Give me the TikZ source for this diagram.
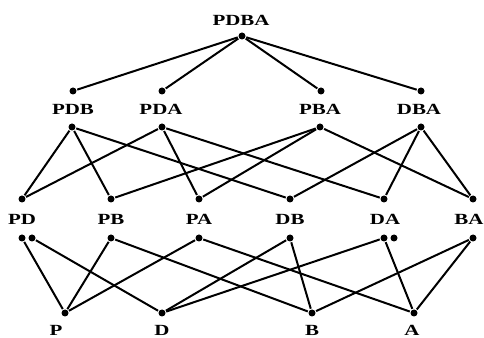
\documentclass[tikz,border=0pt]{standalone}
\usepackage{fontspec}
\setmainfont{Liberation Serif}
\tikzset{
  dot/.style={circle, fill, inner sep=0pt, minimum size=7pt},
  lbl/.style={font=\bfseries\fontsize{15.5}{15.5}\selectfont, inner sep=0pt, xscale=1.35, transform shape}
}
\begin{document}
\begin{tikzpicture}[x=1pt, y=1pt, line width=2pt]
    \useasboundingbox (0,0) rectangle (484,337);

    % Top
    \node[lbl] (lPDBA) at (241,317) {PDBA};
    \node[dot] (PDBA) at (242,301) {};

    % Three letters
    \node[dot] (PDBt) at (73,246) {};
    \node[dot] (PDAt) at (162,246) {};
    \node[dot] (PBAt) at (321,246) {};
    \node[dot] (DBAt) at (421,246) {};
    \node[lbl] (lPDB) at (73,228) {PDB};
    \node[lbl] (lPDA) at (161,228) {PDA};
    \node[lbl] (lPBA) at (320,228) {PBA};
    \node[lbl] (lDBA) at (419,228) {DBA};
    \node[dot] (PDBb) at (72,210) {};
    \node[dot] (PDAb) at (162,210) {};
    \node[dot] (PBAb) at (320,210) {};
    \node[dot] (DBAb) at (421,210) {};

    % Two letters
    \node[dot] (PDt) at (22,138) {};
    \node[dot] (PBt) at (111,138) {};
    \node[dot] (PAt) at (199,138) {};
    \node[dot] (DBt) at (290,138) {};
    \node[dot] (DAt) at (384,138) {};
    \node[dot] (BAt) at (473,138) {};
    \node[lbl] (lPD) at (22,118) {PD};
    \node[lbl] (lPB) at (111,118) {PB};
    \node[lbl] (lPA) at (199,118) {PA};
    \node[lbl] (lDB) at (290,118) {DB};
    \node[lbl] (lDA) at (385,118) {DA};
    \node[lbl] (lBA) at (469,118) {BA};
    \node[dot] (PDb) at (22,99) {};
    \node[dot] (PDc) at (32,99) {};
    \node[dot] (PBb) at (111,99) {};
    \node[dot] (PAb) at (199,99) {};
    \node[dot] (DBb) at (290,99) {};
    \node[dot] (DAb) at (384,99) {};
    \node[dot] (DAc) at (394,99) {};
    \node[dot] (BAb) at (473,99) {};

    % One letter
    \node[dot] (P) at (65,24) {};
    \node[dot] (D) at (162,24) {};
    \node[dot] (B) at (312,24) {};
    \node[dot] (A) at (414,24) {};
    \node[lbl] (lP) at (56,7) {P};
    \node[lbl] (lD) at (162,7) {D};
    \node[lbl] (lB) at (312,7) {B};
    \node[lbl] (lA) at (412,7) {A};

    % Edges
    \draw (PDBA) -- (PDBt);
    \draw (PDBA) -- (PDAt);
    \draw (PDBA) -- (PBAt);
    \draw (PDBA) -- (DBAt);

    \draw (PDBb) -- (PDt);
    \draw (PDBb) -- (PBt);
    \draw (PDBb) -- (DBt);
    \draw (PDAb) -- (PDt);
    \draw (PDAb) -- (PAt);
    \draw (PDAb) -- (DAt);
    \draw (PBAb) -- (PBt);
    \draw (PBAb) -- (PAt);
    \draw (PBAb) -- (BAt);
    \draw (DBAb) -- (DBt);
    \draw (DBAb) -- (DAt);
    \draw (DBAb) -- (BAt);

    \draw (PDb) -- (P);
    \draw (PDc) -- (D);
    \draw (PBb) -- (P);
    \draw (PBb) -- (B);
    \draw (PAb) -- (P);
    \draw (PAb) -- (A);
    \draw (DBb) -- (D);
    \draw (DBb) -- (B);
    \draw (DAb) -- (D);
    \draw (DAb) -- (A);
    \draw (BAb) -- (B);
    \draw (BAb) -- (A);
\end{tikzpicture}
\end{document}
